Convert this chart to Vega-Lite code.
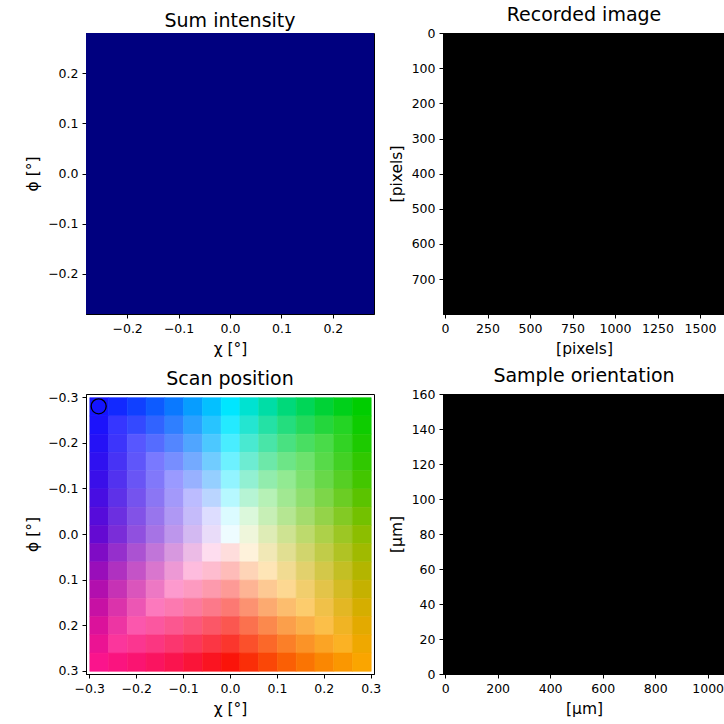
{
"$schema": "https://vega.github.io/schema/vega-lite/v6.json",
"padding": {"left": 25, "top": 5, "right": 0, "bottom": 0},
"background": "white",
"columns": 2,
"spacing": {"row": 80, "column": 69},
"bounds": "flush",
"align": "each",
"resolve": {"scale": {"color": "independent", "stroke": "independent", "x": "independent", "y": "independent"}},
"config": {
 "font": "DejaVu Sans",
 "view": {"stroke": "black", "strokeWidth": 1},
 "axis": {"labelFontSize": 12.5, "labelColor": "black", "titleFontSize": 15.5, "titleFontWeight": "normal", "titleColor": "black", "domainColor": "black", "tickColor": "black", "tickSize": 4, "labelPadding": 4, "titlePadding": 7, "grid": false, "labelFlush": false, "labelOverlap": false},
 "title": {"fontSize": 19, "fontWeight": "normal", "color": "black", "offset": 2}
},
"concat": [
 {
  "title": "Sum intensity",
  "width": 288, "height": 281,
  "data": {"values": [{"chi0": -0.28, "chi1": 0.28, "phi0": -0.28, "phi1": 0.28, "intensity": 0}]},
  "mark": {"type": "rect", "clip": true},
  "encoding": {
   "x": {"field": "chi0", "type": "quantitative", "title": "χ [°]", "scale": {"domain": [-0.28, 0.28], "nice": false, "zero": false}, "axis": {"values": [-0.2, -0.1, 0, 0.1, 0.2], "format": ".1f"}},
   "x2": {"field": "chi1"},
   "y": {"field": "phi0", "type": "quantitative", "title": "ϕ [°]", "scale": {"domain": [-0.28, 0.28], "nice": false, "zero": false}, "axis": {"values": [-0.2, -0.1, 0, 0.1, 0.2], "format": ".1f"}},
   "y2": {"field": "phi1"},
   "color": {"field": "intensity", "type": "quantitative", "scale": {"domain": [0, 1], "range": ["#00007f", "#7f0000"]}, "legend": null}
  }
 },
 {
  "title": "Recorded image",
  "width": 282, "height": 281,
  "data": {"values": [{"x0": -12, "x1": 1647, "y0": -0.5, "y1": 799.5, "v": 0}]},
  "mark": {"type": "rect", "clip": true},
  "encoding": {
   "x": {"field": "x0", "type": "quantitative", "title": "[pixels]", "scale": {"domain": [-12, 1647], "nice": false, "zero": false}, "axis": {"values": [0, 250, 500, 750, 1000, 1250, 1500], "format": "d"}},
   "x2": {"field": "x1"},
   "y": {"field": "y0", "type": "quantitative", "title": "[pixels]", "scale": {"domain": [-0.5, 799.5], "nice": false, "zero": false, "reverse": true}, "axis": {"values": [0, 100, 200, 300, 400, 500, 600, 700], "format": "d"}},
   "y2": {"field": "y1"},
   "color": {"field": "v", "type": "quantitative", "scale": {"domain": [0, 1], "range": ["black", "white"]}, "legend": null}
  }
 },
 {
  "title": "Scan position",
  "width": 288, "height": 280,
  "layer": [
   {
    "data": {"values": [
{"chi":-0.28,"phi":-0.28,"c":"rgb(20,20,255)"},{"chi":-0.24,"phi":-0.28,"c":"rgb(18,41,255)"},{"chi":-0.2,"phi":-0.28,"c":"rgb(16,64,255)"},{"chi":-0.16,"phi":-0.28,"c":"rgb(13,91,255)"},{"chi":-0.12,"phi":-0.28,"c":"rgb(10,121,255)"},{"chi":-0.08,"phi":-0.28,"c":"rgb(7,157,255)"},{"chi":-0.04,"phi":-0.28,"c":"rgb(4,192,255)"},{"chi":0,"phi":-0.28,"c":"rgb(0,230,255)"},{"chi":0.04,"phi":-0.28,"c":"rgb(0,226,209)"},{"chi":0.08,"phi":-0.28,"c":"rgb(0,221,166)"},{"chi":0.12,"phi":-0.28,"c":"rgb(0,217,122)"},{"chi":0.16,"phi":-0.28,"c":"rgb(0,214,87)"},{"chi":0.2,"phi":-0.28,"c":"rgb(0,210,54)"},{"chi":0.24,"phi":-0.28,"c":"rgb(0,208,26)"},{"chi":0.28,"phi":-0.28,"c":"rgb(0,205,0)"},
{"chi":-0.28,"phi":-0.24,"c":"rgb(28,19,251)"},{"chi":-0.24,"phi":-0.24,"c":"rgb(54,54,255)"},{"chi":-0.2,"phi":-0.24,"c":"rgb(52,73,255)"},{"chi":-0.16,"phi":-0.24,"c":"rgb(49,99,255)"},{"chi":-0.12,"phi":-0.24,"c":"rgb(47,127,255)"},{"chi":-0.08,"phi":-0.24,"c":"rgb(43,160,255)"},{"chi":-0.04,"phi":-0.24,"c":"rgb(40,196,255)"},{"chi":0,"phi":-0.24,"c":"rgb(36,234,255)"},{"chi":0.04,"phi":-0.24,"c":"rgb(36,229,209)"},{"chi":0.08,"phi":-0.24,"c":"rgb(36,225,165)"},{"chi":0.12,"phi":-0.24,"c":"rgb(36,221,126)"},{"chi":0.16,"phi":-0.24,"c":"rgb(36,217,91)"},{"chi":0.2,"phi":-0.24,"c":"rgb(36,214,60)"},{"chi":0.24,"phi":-0.24,"c":"rgb(36,212,36)"},{"chi":0.28,"phi":-0.24,"c":"rgb(14,204,0)"},
{"chi":-0.28,"phi":-0.2,"c":"rgb(37,18,246)"},{"chi":-0.24,"phi":-0.2,"c":"rgb(61,53,251)"},{"chi":-0.2,"phi":-0.2,"c":"rgb(87,87,255)"},{"chi":-0.16,"phi":-0.2,"c":"rgb(85,108,255)"},{"chi":-0.12,"phi":-0.2,"c":"rgb(83,134,255)"},{"chi":-0.08,"phi":-0.2,"c":"rgb(80,165,255)"},{"chi":-0.04,"phi":-0.2,"c":"rgb(76,200,255)"},{"chi":0,"phi":-0.2,"c":"rgb(73,237,255)"},{"chi":0.04,"phi":-0.2,"c":"rgb(73,233,209)"},{"chi":0.08,"phi":-0.2,"c":"rgb(73,229,168)"},{"chi":0.12,"phi":-0.2,"c":"rgb(73,225,129)"},{"chi":0.16,"phi":-0.2,"c":"rgb(73,222,98)"},{"chi":0.2,"phi":-0.2,"c":"rgb(73,219,73)"},{"chi":0.24,"phi":-0.2,"c":"rgb(50,211,36)"},{"chi":0.28,"phi":-0.2,"c":"rgb(29,202,0)"},
{"chi":-0.28,"phi":-0.16,"c":"rgb(47,17,240)"},{"chi":-0.24,"phi":-0.16,"c":"rgb(71,51,245)"},{"chi":-0.2,"phi":-0.16,"c":"rgb(95,86,250)"},{"chi":-0.16,"phi":-0.16,"c":"rgb(121,121,255)"},{"chi":-0.12,"phi":-0.16,"c":"rgb(119,142,255)"},{"chi":-0.08,"phi":-0.16,"c":"rgb(116,170,255)"},{"chi":-0.04,"phi":-0.16,"c":"rgb(113,204,255)"},{"chi":0,"phi":-0.16,"c":"rgb(109,241,255)"},{"chi":0.04,"phi":-0.16,"c":"rgb(109,236,210)"},{"chi":0.08,"phi":-0.16,"c":"rgb(109,232,169)"},{"chi":0.12,"phi":-0.16,"c":"rgb(109,229,135)"},{"chi":0.16,"phi":-0.16,"c":"rgb(109,226,109)"},{"chi":0.2,"phi":-0.16,"c":"rgb(87,218,73)"},{"chi":0.24,"phi":-0.16,"c":"rgb(66,209,36)"},{"chi":0.28,"phi":-0.16,"c":"rgb(48,200,0)"},
{"chi":-0.28,"phi":-0.12,"c":"rgb(58,15,233)"},{"chi":-0.24,"phi":-0.12,"c":"rgb(82,50,239)"},{"chi":-0.2,"phi":-0.12,"c":"rgb(105,85,245)"},{"chi":-0.16,"phi":-0.12,"c":"rgb(129,120,250)"},{"chi":-0.12,"phi":-0.12,"c":"rgb(154,154,255)"},{"chi":-0.08,"phi":-0.12,"c":"rgb(152,177,255)"},{"chi":-0.04,"phi":-0.12,"c":"rgb(149,207,255)"},{"chi":0,"phi":-0.12,"c":"rgb(146,244,255)"},{"chi":0.04,"phi":-0.12,"c":"rgb(146,240,210)"},{"chi":0.08,"phi":-0.12,"c":"rgb(146,236,173)"},{"chi":0.12,"phi":-0.12,"c":"rgb(146,234,146)"},{"chi":0.16,"phi":-0.12,"c":"rgb(124,225,109)"},{"chi":0.2,"phi":-0.12,"c":"rgb(104,216,73)"},{"chi":0.24,"phi":-0.12,"c":"rgb(86,207,36)"},{"chi":0.28,"phi":-0.12,"c":"rgb(67,198,0)"},
{"chi":-0.28,"phi":-0.08,"c":"rgb(72,14,226)"},{"chi":-0.24,"phi":-0.08,"c":"rgb(94,49,232)"},{"chi":-0.2,"phi":-0.08,"c":"rgb(117,83,238)"},{"chi":-0.16,"phi":-0.08,"c":"rgb(139,118,244)"},{"chi":-0.12,"phi":-0.08,"c":"rgb(163,153,250)"},{"chi":-0.08,"phi":-0.08,"c":"rgb(188,188,255)"},{"chi":-0.04,"phi":-0.08,"c":"rgb(186,213,255)"},{"chi":0,"phi":-0.08,"c":"rgb(182,248,255)"},{"chi":0.04,"phi":-0.08,"c":"rgb(182,244,212)"},{"chi":0.08,"phi":-0.08,"c":"rgb(182,241,182)"},{"chi":0.12,"phi":-0.08,"c":"rgb(161,232,146)"},{"chi":0.16,"phi":-0.08,"c":"rgb(142,223,109)"},{"chi":0.2,"phi":-0.08,"c":"rgb(125,214,73)"},{"chi":0.24,"phi":-0.08,"c":"rgb(107,205,36)"},{"chi":0.28,"phi":-0.08,"c":"rgb(91,195,0)"},
{"chi":-0.28,"phi":-0.04,"c":"rgb(86,12,218)"},{"chi":-0.24,"phi":-0.04,"c":"rgb(108,47,224)"},{"chi":-0.2,"phi":-0.04,"c":"rgb(130,82,231)"},{"chi":-0.16,"phi":-0.04,"c":"rgb(152,117,237)"},{"chi":-0.12,"phi":-0.04,"c":"rgb(175,152,244)"},{"chi":-0.08,"phi":-0.04,"c":"rgb(197,187,250)"},{"chi":-0.04,"phi":-0.04,"c":"rgb(221,221,255)"},{"chi":0,"phi":-0.04,"c":"rgb(219,251,255)"},{"chi":0.04,"phi":-0.04,"c":"rgb(219,248,219)"},{"chi":0.08,"phi":-0.04,"c":"rgb(199,239,182)"},{"chi":0.12,"phi":-0.04,"c":"rgb(181,230,146)"},{"chi":0.16,"phi":-0.04,"c":"rgb(164,220,109)"},{"chi":0.2,"phi":-0.04,"c":"rgb(148,211,73)"},{"chi":0.24,"phi":-0.04,"c":"rgb(131,202,36)"},{"chi":0.28,"phi":-0.04,"c":"rgb(115,193,0)"},
{"chi":-0.28,"phi":0,"c":"rgb(100,10,210)"},{"chi":-0.24,"phi":0,"c":"rgb(122,45,216)"},{"chi":-0.2,"phi":0,"c":"rgb(144,80,223)"},{"chi":-0.16,"phi":0,"c":"rgb(166,115,229)"},{"chi":-0.12,"phi":0,"c":"rgb(189,150,236)"},{"chi":-0.08,"phi":0,"c":"rgb(211,185,242)"},{"chi":-0.04,"phi":0,"c":"rgb(233,220,249)"},{"chi":0,"phi":0,"c":"rgb(238,252,255)"},{"chi":0.04,"phi":0,"c":"rgb(239,246,219)"},{"chi":0.08,"phi":0,"c":"rgb(222,236,182)"},{"chi":0.12,"phi":0,"c":"rgb(206,227,146)"},{"chi":0.16,"phi":0,"c":"rgb(189,218,109)"},{"chi":0.2,"phi":0,"c":"rgb(173,209,73)"},{"chi":0.24,"phi":0,"c":"rgb(156,199,36)"},{"chi":0.28,"phi":0,"c":"rgb(140,190,0)"},
{"chi":-0.28,"phi":0.04,"c":"rgb(127,12,197)"},{"chi":-0.24,"phi":0.04,"c":"rgb(149,47,204)"},{"chi":-0.2,"phi":0.04,"c":"rgb(171,82,210)"},{"chi":-0.16,"phi":0.04,"c":"rgb(193,117,217)"},{"chi":-0.12,"phi":0.04,"c":"rgb(215,152,223)"},{"chi":-0.08,"phi":0.04,"c":"rgb(236,187,230)"},{"chi":-0.04,"phi":0.04,"c":"rgb(254,221,239)"},{"chi":0,"phi":0.04,"c":"rgb(254,221,220)"},{"chi":0.04,"phi":0.04,"c":"rgb(254,242,219)"},{"chi":0.08,"phi":0.04,"c":"rgb(241,232,182)"},{"chi":0.12,"phi":0.04,"c":"rgb(225,223,146)"},{"chi":0.16,"phi":0.04,"c":"rgb(209,213,109)"},{"chi":0.2,"phi":0.04,"c":"rgb(193,204,73)"},{"chi":0.24,"phi":0.04,"c":"rgb(176,195,36)"},{"chi":0.28,"phi":0.04,"c":"rgb(160,186,0)"},
{"chi":-0.28,"phi":0.08,"c":"rgb(153,14,186)"},{"chi":-0.24,"phi":0.08,"c":"rgb(175,49,192)"},{"chi":-0.2,"phi":0.08,"c":"rgb(196,83,199)"},{"chi":-0.16,"phi":0.08,"c":"rgb(217,118,206)"},{"chi":-0.12,"phi":0.08,"c":"rgb(237,153,213)"},{"chi":-0.08,"phi":0.08,"c":"rgb(254,188,222)"},{"chi":-0.04,"phi":0.08,"c":"rgb(254,188,207)"},{"chi":0,"phi":0.08,"c":"rgb(254,188,185)"},{"chi":0.04,"phi":0.08,"c":"rgb(254,212,183)"},{"chi":0.08,"phi":0.08,"c":"rgb(254,229,182)"},{"chi":0.12,"phi":0.08,"c":"rgb(241,219,146)"},{"chi":0.16,"phi":0.08,"c":"rgb(226,209,109)"},{"chi":0.2,"phi":0.08,"c":"rgb(211,200,73)"},{"chi":0.24,"phi":0.08,"c":"rgb(195,191,36)"},{"chi":0.28,"phi":0.08,"c":"rgb(179,181,0)"},
{"chi":-0.28,"phi":0.12,"c":"rgb(178,15,174)"},{"chi":-0.24,"phi":0.12,"c":"rgb(198,50,181)"},{"chi":-0.2,"phi":0.12,"c":"rgb(218,85,188)"},{"chi":-0.16,"phi":0.12,"c":"rgb(237,120,196)"},{"chi":-0.12,"phi":0.12,"c":"rgb(253,154,206)"},{"chi":-0.08,"phi":0.12,"c":"rgb(253,154,192)"},{"chi":-0.04,"phi":0.12,"c":"rgb(253,154,173)"},{"chi":0,"phi":0.12,"c":"rgb(253,154,150)"},{"chi":0.04,"phi":0.12,"c":"rgb(253,180,148)"},{"chi":0.08,"phi":0.12,"c":"rgb(253,201,147)"},{"chi":0.12,"phi":0.12,"c":"rgb(253,216,146)"},{"chi":0.16,"phi":0.12,"c":"rgb(241,206,109)"},{"chi":0.2,"phi":0.12,"c":"rgb(227,196,73)"},{"chi":0.24,"phi":0.12,"c":"rgb(212,187,36)"},{"chi":0.28,"phi":0.12,"c":"rgb(197,177,0)"},
{"chi":-0.28,"phi":0.16,"c":"rgb(199,17,164)"},{"chi":-0.24,"phi":0.16,"c":"rgb(219,51,171)"},{"chi":-0.2,"phi":0.16,"c":"rgb(236,86,180)"},{"chi":-0.16,"phi":0.16,"c":"rgb(252,121,189)"},{"chi":-0.12,"phi":0.16,"c":"rgb(252,121,176)"},{"chi":-0.08,"phi":0.16,"c":"rgb(252,121,159)"},{"chi":-0.04,"phi":0.16,"c":"rgb(252,121,138)"},{"chi":0,"phi":0.16,"c":"rgb(252,121,115)"},{"chi":0.04,"phi":0.16,"c":"rgb(252,146,113)"},{"chi":0.08,"phi":0.16,"c":"rgb(252,170,112)"},{"chi":0.12,"phi":0.16,"c":"rgb(252,189,110)"},{"chi":0.16,"phi":0.16,"c":"rgb(252,204,109)"},{"chi":0.2,"phi":0.16,"c":"rgb(240,193,73)"},{"chi":0.24,"phi":0.16,"c":"rgb(227,183,36)"},{"chi":0.28,"phi":0.16,"c":"rgb(213,174,0)"},
{"chi":-0.28,"phi":0.2,"c":"rgb(219,18,155)"},{"chi":-0.24,"phi":0.2,"c":"rgb(237,53,163)"},{"chi":-0.2,"phi":0.2,"c":"rgb(251,87,173)"},{"chi":-0.16,"phi":0.2,"c":"rgb(251,87,160)"},{"chi":-0.12,"phi":0.2,"c":"rgb(251,87,144)"},{"chi":-0.08,"phi":0.2,"c":"rgb(251,87,125)"},{"chi":-0.04,"phi":0.2,"c":"rgb(251,87,103)"},{"chi":0,"phi":0.2,"c":"rgb(251,87,80)"},{"chi":0.04,"phi":0.2,"c":"rgb(251,113,78)"},{"chi":0.08,"phi":0.2,"c":"rgb(251,137,77)"},{"chi":0.12,"phi":0.2,"c":"rgb(251,159,75)"},{"chi":0.16,"phi":0.2,"c":"rgb(251,176,74)"},{"chi":0.2,"phi":0.2,"c":"rgb(251,191,73)"},{"chi":0.24,"phi":0.2,"c":"rgb(240,180,36)"},{"chi":0.28,"phi":0.2,"c":"rgb(227,170,0)"},
{"chi":-0.28,"phi":0.24,"c":"rgb(235,19,147)"},{"chi":-0.24,"phi":0.24,"c":"rgb(251,54,156)"},{"chi":-0.2,"phi":0.24,"c":"rgb(251,54,144)"},{"chi":-0.16,"phi":0.24,"c":"rgb(251,54,129)"},{"chi":-0.12,"phi":0.24,"c":"rgb(251,54,111)"},{"chi":-0.08,"phi":0.24,"c":"rgb(251,54,91)"},{"chi":-0.04,"phi":0.24,"c":"rgb(251,54,68)"},{"chi":0,"phi":0.24,"c":"rgb(251,54,45)"},{"chi":0.04,"phi":0.24,"c":"rgb(251,80,43)"},{"chi":0.08,"phi":0.24,"c":"rgb(251,104,41)"},{"chi":0.12,"phi":0.24,"c":"rgb(251,127,40)"},{"chi":0.16,"phi":0.24,"c":"rgb(251,147,39)"},{"chi":0.2,"phi":0.24,"c":"rgb(251,164,37)"},{"chi":0.24,"phi":0.24,"c":"rgb(251,178,36)"},{"chi":0.28,"phi":0.24,"c":"rgb(239,168,0)"},
{"chi":-0.28,"phi":0.28,"c":"rgb(250,20,140)"},{"chi":-0.24,"phi":0.28,"c":"rgb(250,20,127)"},{"chi":-0.2,"phi":0.28,"c":"rgb(250,20,113)"},{"chi":-0.16,"phi":0.28,"c":"rgb(250,20,96)"},{"chi":-0.12,"phi":0.28,"c":"rgb(250,20,78)"},{"chi":-0.08,"phi":0.28,"c":"rgb(250,20,56)"},{"chi":-0.04,"phi":0.28,"c":"rgb(250,20,33)"},{"chi":0,"phi":0.28,"c":"rgb(250,20,10)"},{"chi":0.04,"phi":0.28,"c":"rgb(250,46,8)"},{"chi":0.08,"phi":0.28,"c":"rgb(250,71,7)"},{"chi":0.12,"phi":0.28,"c":"rgb(250,95,5)"},{"chi":0.16,"phi":0.28,"c":"rgb(250,116,3)"},{"chi":0.2,"phi":0.28,"c":"rgb(250,135,2)"},{"chi":0.24,"phi":0.28,"c":"rgb(250,151,1)"},{"chi":0.28,"phi":0.28,"c":"rgb(250,165,0)"}
    ]},
    "mark": {"type": "rect", "clip": true, "binSpacing": 0, "strokeWidth": 0.6},
    "encoding": {
     "x": {"field": "chi", "type": "quantitative", "bin": {"extent": [-0.3, 0.3], "step": 0.04, "nice": false}, "title": "χ [°]", "scale": {"domain": [-0.307, 0.307], "nice": false, "zero": false}, "axis": {"values": [-0.3, -0.2, -0.1, 0, 0.1, 0.2, 0.3], "format": ".1f"}},
     "y": {"field": "phi", "type": "quantitative", "bin": {"extent": [-0.3, 0.3], "step": 0.04, "nice": false}, "title": "ϕ [°]", "scale": {"domain": [-0.307, 0.307], "nice": false, "zero": false, "reverse": true}, "axis": {"values": [-0.3, -0.2, -0.1, 0, 0.1, 0.2, 0.3], "format": ".1f"}},
     "color": {"field": "c", "type": "nominal", "scale": null, "legend": null},
     "stroke": {"field": "c", "type": "nominal", "scale": null, "legend": null}
    }
   },
   {
    "data": {"values": [{"chi": -0.28, "phi": -0.28}]},
    "mark": {"type": "point", "shape": "circle", "filled": false, "stroke": "black", "strokeWidth": 1.3, "size": 227, "opacity": 1, "clip": true},
    "encoding": {
     "x": {"field": "chi", "type": "quantitative", "title": "χ [°]"},
     "y": {"field": "phi", "type": "quantitative", "title": "ϕ [°]"}
    }
   }
  ]
 },
 {
  "title": "Sample orientation",
  "width": 282, "height": 280,
  "data": {"values": [{"x0": -8, "x1": 1066, "y0": 0, "y1": 160, "v": 0}]},
  "mark": {"type": "rect", "clip": true},
  "encoding": {
   "x": {"field": "x0", "type": "quantitative", "title": "[μm]", "scale": {"domain": [-8, 1066], "nice": false, "zero": false}, "axis": {"values": [0, 200, 400, 600, 800, 1000], "format": "d"}},
   "x2": {"field": "x1"},
   "y": {"field": "y0", "type": "quantitative", "title": "[μm]", "scale": {"domain": [0, 160], "nice": false, "zero": false}, "axis": {"values": [0, 20, 40, 60, 80, 100, 120, 140, 160], "format": "d"}},
   "y2": {"field": "y1"},
   "color": {"field": "v", "type": "quantitative", "scale": {"domain": [0, 1], "range": ["black", "white"]}, "legend": null}
  }
 }
]
}
